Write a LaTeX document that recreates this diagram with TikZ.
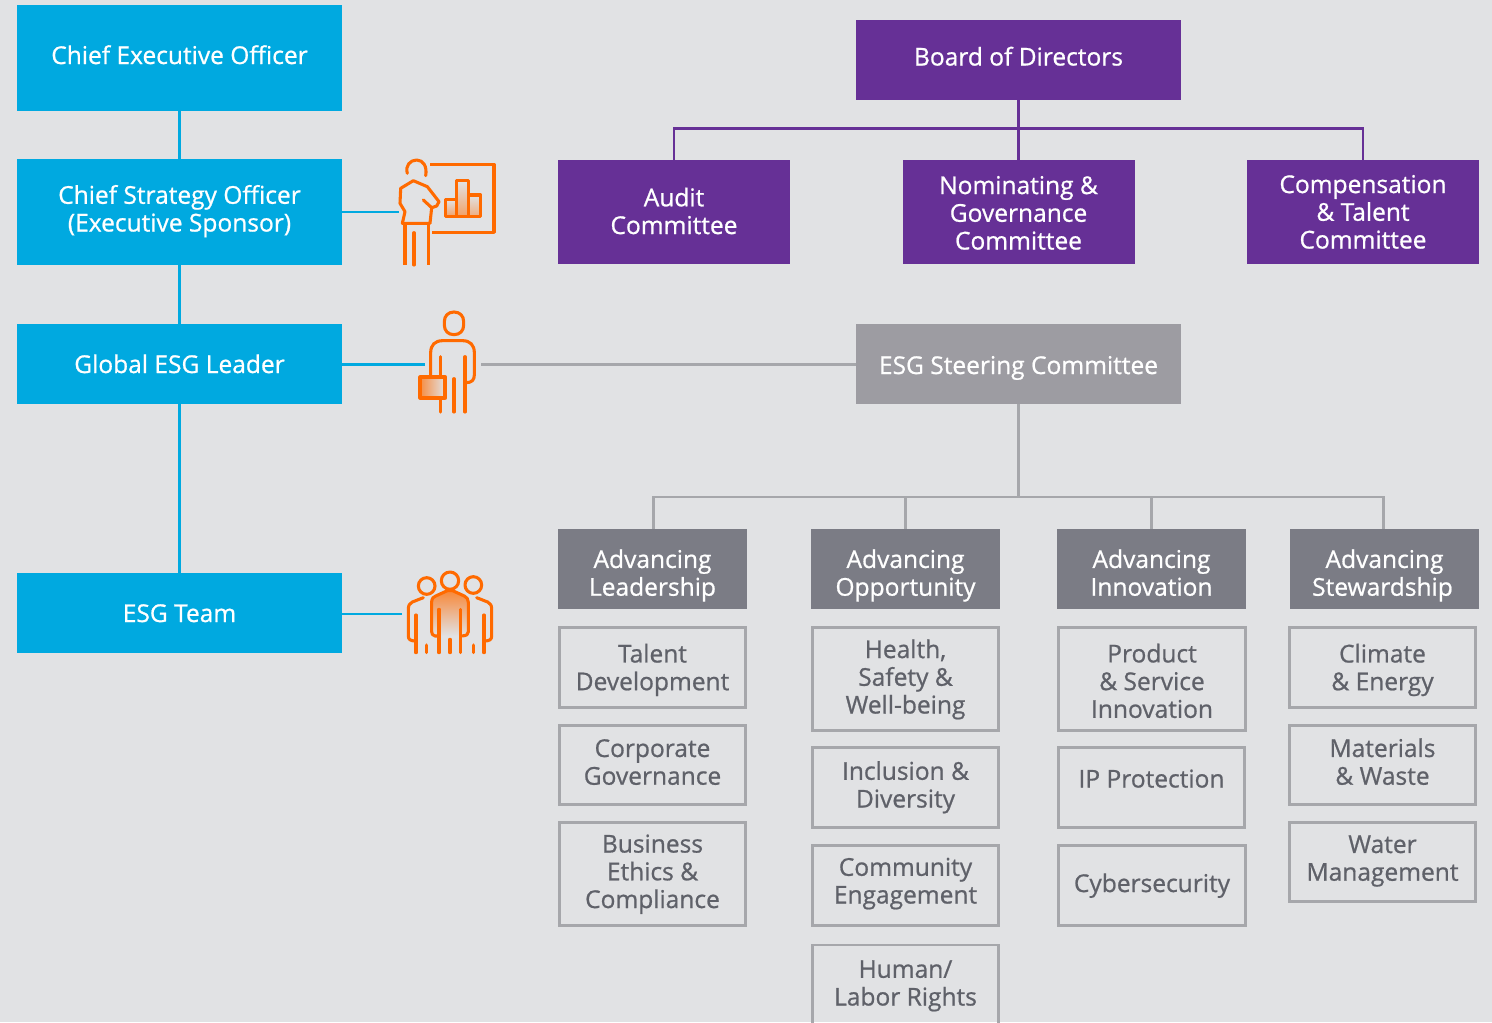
\documentclass[tikz,border=0pt]{standalone}
\usepackage{fontspec}
\setmainfont[FakeBold=0.8]{Open Sans}
\definecolor{bgc}{HTML}{E1E2E4}
\definecolor{cyanc}{HTML}{00A9E0}
\definecolor{purp}{HTML}{663096}
\definecolor{steer}{HTML}{9D9CA2}
\definecolor{head}{HTML}{7B7C85}
\definecolor{subl}{HTML}{A6A7AB}
\definecolor{subt}{HTML}{5F6169}
\definecolor{oran}{HTML}{FF6A00}
\tikzset{
  bl/.style={text height={29pt+(#1)*0.75pt},text depth={29pt-(#1)*0.75pt}},
  boxbase/.style={rectangle,inner sep=0pt,align=center,font=\fontsize{18.4}{20.8}\selectfont,text=white},
  cbox/.style={boxbase,fill=cyanc,minimum width=244pt},
  pbox/.style={boxbase,fill=purp,minimum width=174pt,minimum height=78pt},
  bigp/.style={boxbase,fill=purp,minimum width=244pt,minimum height=60pt},
  gbox/.style={boxbase,fill=steer,minimum width=244pt,minimum height=60pt},
  hbox/.style={boxbase,fill=head,minimum width=142pt,minimum height=60pt,bl=26.7},
  sbox/.style={boxbase,text=subt,draw=subl,line width=2.2pt,minimum width=140pt},
  cline/.style={draw=cyanc,line width=2.2pt},
  pline/.style={draw=purp,line width=2.2pt},
  gline/.style={draw=subl,line width=2.2pt},
  ico/.style={draw=oran,line width=2.3pt,line join=round,line cap=round},
}
\begin{document}
\begin{tikzpicture}[x=0.75pt,y=-0.75pt]
\path[use as bounding box,fill=bgc] (0,0) rectangle (1492,1022);
% left column
\node[cbox,minimum height=79.5pt,bl=6] (ceo) at (179.5,58) {Chief Executive Officer};
\node[cbox,minimum height=79.5pt,bl=19.5] (cso) at (179.5,212) {Chief Strategy Officer\\(Executive Sponsor)};
\node[cbox,minimum height=60pt,bl=9] (gel) at (179.5,364) {Global ESG Leader};
\node[cbox,minimum height=60pt,bl=9] (team) at (179.5,613) {ESG Team};
\draw[cline] (ceo) -- (cso);
\draw[cline] (cso) -- (gel);
\draw[cline] (gel) -- (team);
% board
\node[bigp,bl=5.5] (board) at (1018.5,60) {Board of Directors};
\node[pbox,bl=22] (audit) at (674,212) {Audit\\Committee};
\node[pbox,bl=37.5] (nom) at (1018.5,212) {Nominating \&\\Governance\\Committee};
\node[pbox,bl=36.5] (comp) at (1363,212) {Compensation\\\& Talent\\Committee};
\coordinate (busp) at (1018.5,128.5);
\draw[pline] (board.south) -- (nom.north);
\draw[pline] (audit.north) |- (busp) -| (comp.north);
% steering
\node[gbox,bl=10] (steering) at (1018.5,364) {ESG Steering Committee};
\coordinate (icoG) at (481,364.5);
\draw[gline] (icoG) -- (icoG -| steering.west);
\node[hbox] (h1) at (652.5,569) {Advancing\\Leadership};
\node[hbox] (h2) at (905.5,569) {Advancing\\Opportunity};
\node[hbox] (h3) at (1151.5,569) {Advancing\\Innovation};
\node[hbox] (h4) at (1384.5,569) {Advancing\\Stewardship\hspace*{3pt}};
\coordinate (busg) at (1018.5,497);
\draw[gline] (steering.south) -- (busg);
\draw[gline] ([xshift=1pt]h1.north) |- (busg) -| ([xshift=-1pt]h4.north);
\draw[gline] (h2.north) -- (h2.north |- busg);
\draw[gline] (h3.north) -- (h3.north |- busg);
% sub boxes
\node[sbox,minimum height=60pt,bl=22.7] (a1) at (652.5,667.5) {Talent\\Development};
\node[sbox,minimum height=59pt,bl=19.7] (a2) at (652.5,765) {Corporate\\Governance};
\node[sbox,minimum height=77.5pt,bl=34] (a3) at (652.5,874) {Business\\Ethics \&\\Compliance};
\node[sbox,minimum height=77.5pt,bl=34.5] (b1) at (905.5,679) {Health,\\Safety \&\\Well-being};
\node[sbox,minimum height=60pt,bl=20] (b2) at (905.5,787.5) {Inclusion \&\\Diversity};
\node[sbox,minimum height=60pt,bl=18] (b3) at (905.5,885.5) {Community\\Engagement};
\node[sbox,minimum height=60pt,bl=20.5] (b4) at (905.5,985) {Human/\\Labor Rights};
\node[sbox,minimum height=77.5pt,bl=39] (c1) at (1152,679) {Product\\\& Service\\Innovation};
\node[sbox,minimum height=60pt,bl=0] (c2) at (1151.5,787.5) {IP Protection};
\node[sbox,minimum height=60pt,bl=6.5] (c3) at (1152,885.5) {Cybersecurity};
\node[sbox,minimum height=60pt,bl=22.7] (d1) at (1382.5,667.5) {Climate\\\& Energy};
\node[sbox,minimum height=59pt,bl=19.7] (d2) at (1382.5,765) {Materials\\\& Waste};
\node[sbox,minimum height=59pt,bl=18.7] (d3) at (1382.5,862) {Water\\Management};
% connectors to icons
\coordinate (ic1) at (399,212);
\coordinate (ic2) at (425,364.5);
\coordinate (ic3) at (402,614);
\draw[cline] (cso.east |- ic1) -- (ic1);
\draw[cline] (gel.east |- ic2) -- (ic2);
\draw[cline] (team.east |- ic3) -- (ic3);
% icon 1
\begin{scope}[shift={(340,140)},x=0.25pt,y=-0.25pt]
\shade[bottom color=oran!55!bgc,top color=bgc] (320,180) rectangle (350,230);
\shade[bottom color=oran!55!bgc,top color=bgc] (350,124) rectangle (386,230);
\shade[bottom color=oran!45!bgc,top color=bgc] (386,165) rectangle (422,230);
\draw[ico,line cap=butt] (271,73) -- (462,73) -- (462,277) -- (277,277);
\draw[ico] (202,100) .. controls (195,78) and (210,60) .. (230,60) .. controls (250,60) and (262,80) .. (257,107);
\draw[ico] (187,250) -- (195,215) -- (180,190) -- (182,145) -- (220,122) -- (262,140) -- (297,185) -- (290,198) -- (275,203) -- (250,180);
\draw[ico] (275,203) -- (270,250) -- (187,250);
\draw[ico,line cap=butt] (195,250) -- (195,375) (265,250) -- (265,375);
\draw[ico] (222,278) -- (222,375);
\draw[ico] (317,178) rectangle (350,230);
\draw[ico] (350,122) rectangle (386,230);
\draw[ico] (386,165) rectangle (422,230);
\end{scope}
% icon 2
\begin{scope}[shift={(340,300)},x=0.25pt,y=-0.25pt]
\draw[ico] (342,36) .. controls (360,36) and (371,48) .. (371,65) -- (371,75) .. controls (371,92) and (360,104) .. (342,104) .. controls (324,104) and (313,92) .. (313,75) -- (313,65) .. controls (313,48) and (324,36) .. (342,36) -- cycle;
\draw[ico] (272,230) -- (272,158) .. controls (272,135) and (285,122) .. (308,122) -- (368,122) .. controls (390,122) and (403,135) .. (403,158) -- (403,225) .. controls (403,240) and (395,248) .. (378,248);
\draw[ico] (302,170) -- (302,230) (302,295) -- (302,336) (375,170) -- (375,336) (342,236) -- (342,336);
\shade[left color=oran!70!bgc,right color=bgc] (241,232) rectangle (316,293);
\draw[ico,line width=2.8pt,line cap=butt] (241,232) rectangle (316,293);
\end{scope}
% icon 3
\begin{scope}[shift={(340,560)},x=0.25pt,y=-0.25pt]
\shade[top color=oran!75!bgc,bottom color=bgc] (285,228) -- (275,215) -- (275,125) -- (285,108) -- (325,92) -- (338,92) -- (375,110) -- (385,125) -- (385,215) -- (375,228) -- cycle;
\draw[ico] (260,78) circle [radius=25];
\draw[ico] (330,62) circle [radius=26];
\draw[ico] (400,75) circle [radius=25];
\draw[ico] (297,228) -- (285,228) .. controls (278,226) and (275,222) .. (275,215) -- (275,125) .. controls (276,115) and (280,110) .. (287,108) -- (322,92) -- (338,92) -- (373,108) .. controls (381,112) and (385,118) .. (385,127) -- (385,215) .. controls (385,222) and (382,228) .. (362,228);
\draw[ico] (297,148) -- (297,278) (362,148) -- (362,278) (330,238) -- (330,278);
\draw[ico] (250,113) -- (217,126) .. controls (209,130) and (205,136) .. (205,147) -- (205,228) .. controls (205,238) and (210,243) .. (228,243);
\draw[ico] (228,165) -- (228,278) (260,255) -- (260,278);
\draw[ico] (410,113) -- (443,126) .. controls (451,130) and (455,136) .. (455,147) -- (455,228) .. controls (455,238) and (450,243) .. (432,243);
\draw[ico] (432,165) -- (432,278) (400,255) -- (400,278);
\end{scope}
\end{tikzpicture}
\end{document}
